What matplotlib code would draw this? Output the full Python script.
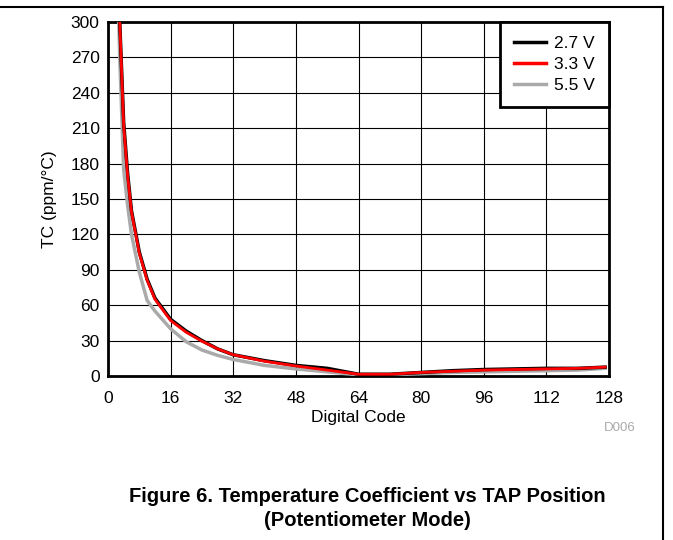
import numpy as np
import matplotlib.pyplot as plt
from matplotlib.lines import Line2D

plt.rcParams['font.family'] = ['Liberation Sans', 'DejaVu Sans']

# Données
codes = [2, 3, 4, 5, 6, 8, 10, 12, 16, 20, 24, 28, 32, 40, 48, 56, 64, 72, 80, 88, 96, 104, 112, 120, 127]
tc_27 = [420, 300, 215, 172, 140, 105, 82, 66, 48, 38, 30, 23, 18, 13, 9, 6.5, 1.5, 1.5, 3, 4.5, 5.5, 6, 6.5, 6.5, 7.5]
tc_33 = [420, 300, 213, 170, 139, 104, 81, 65, 47, 37, 29.5, 23, 18, 12.5, 8.5, 5, 1.5, 1.5, 3, 4, 5, 5.5, 6, 6.5, 7.5]
tc_55 = [400, 270, 175, 145, 120, 88, 64, 55, 40, 29, 22, 17.5, 14, 9, 6, 3.5, 1, 1, 2, 3, 3.5, 4, 4.5, 5, 6.5]

x_ticks = [0, 16, 32, 48, 64, 80, 96, 112, 128]
y_ticks = [0, 30, 60, 90, 120, 150, 180, 210, 240, 270, 300]

fig = plt.figure(figsize=(6.73, 5.4), dpi=100)
ax = fig.add_axes([108 / 673, 1 - 376 / 540, 501 / 673, 354 / 540])

ax.plot(codes, tc_55, color='#aaaaaa', lw=2.5, label='5.5 V', zorder=3)
ax.plot(codes, tc_27, color='black', lw=2.5, label='2.7 V', zorder=4)
ax.plot(codes, tc_33, color='red', lw=2.0, label='3.3 V', zorder=5)

ax.set_xlim(0, 128)
ax.set_ylim(0, 300)
ax.set_xticks(x_ticks)
ax.set_yticks(y_ticks)
ax.grid(True, color='black', lw=0.8)
ax.tick_params(length=0, labelsize=12.5)
ax.tick_params(axis='x', pad=11)
ax.tick_params(axis='y', pad=6)
for s in ax.spines.values():
    s.set_linewidth(2)
ax.set_xlabel('Digital Code', fontsize=12.5, labelpad=3)
ax.set_ylabel('TC (ppm/°C)', fontsize=12.5, labelpad=10)

# Légende dans l'ordre 2.7 / 3.3 / 5.5
handles = [Line2D([], [], color='black', lw=2.5),
           Line2D([], [], color='red', lw=2.5),
           Line2D([], [], color='#aaaaaa', lw=2.5)]
leg = ax.legend(handles, ['2.7 V', '3.3 V', '5.5 V'], loc='upper right',
                fontsize=12.5, fancybox=False, framealpha=1, edgecolor='black',
                borderaxespad=0, handlelength=1.8, handletextpad=0.5,
                labelspacing=0.35, borderpad=0.8)
leg.get_frame().set_linewidth(2)
leg.set_zorder(10)

fig.text(620 / 673, 1 - 428 / 540, 'D006', color='#aaaaaa', fontsize=9.5, ha='center', va='center')
fig.text(367 / 673, 1 - 497 / 540, 'Figure 6. Temperature Coefficient vs TAP Position',
         fontsize=14.5, fontweight='bold', ha='center', va='center')
fig.text(367 / 673, 1 - 520 / 540, '(Potentiometer Mode)',
         fontsize=14.5, fontweight='bold', ha='center', va='center')

# Cadre de la page
fig.add_artist(Line2D([0, 663 / 673], [1 - 7 / 540, 1 - 7 / 540], color='black', lw=1.5))
fig.add_artist(Line2D([663 / 673, 663 / 673], [0, 1 - 7 / 540], color='black', lw=1.5))

fig.savefig('out.png', dpi=100)
